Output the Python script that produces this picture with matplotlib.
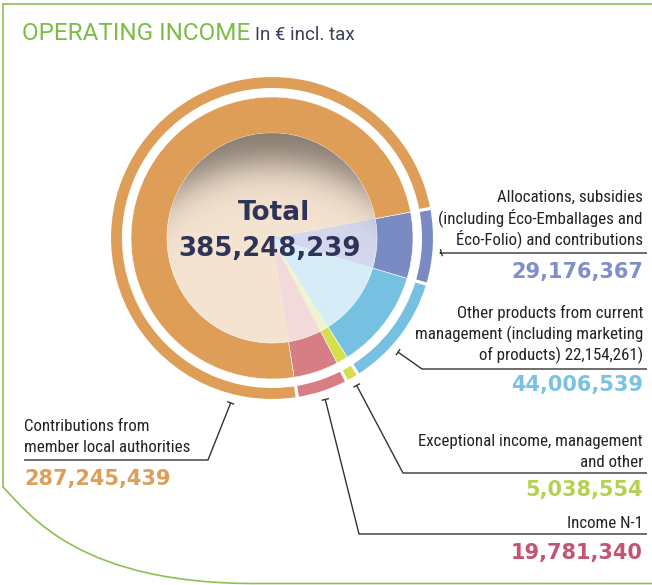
import numpy as np
import matplotlib
matplotlib.use("Agg")
import matplotlib.pyplot as plt
from matplotlib.patches import Circle, PathPatch
from matplotlib.path import Path

# ---------------- data ----------------
categories = [
    "Allocations, subsidies (including Éco-Emballages and Éco-Folio) and contributions",
    "Other products from current management (including marketing of products) 22,154,261)",
    "Exceptional income, management and other",
    "Income N-1",
    "Contributions from member local authorities",
]
values = [29176367, 44006539, 5038554, 19781340, 287245439]
label_lines = [
    ["Allocations, subsidies", "(including Éco-Emballages and", "Éco-Folio) and contributions"],
    ["Other products from current", "management (including marketing", "of products) 22,154,261)"],
    ["Exceptional income, management", "and other"],
    ["Income N-1"],
    ["Contributions from", "member local authorities"],
]
title = "OPERATING INCOME"
subtitle = "In € incl. tax"
total_word = "Total"

# ---------------- style ----------------
ring_colors = ["#7A8BC3", "#76C1E1", "#D5DF4B", "#D67E84", "#DF9E57"]
light_colors = ["#D3D8EE", "#D6ECF7", "#F1F4D0", "#F2DADB", "#F5E3D1"]
number_colors = ["#7F8FC8", "#78C3E4", "#B5D24F", "#C45473", "#DF9E57"]
green = "#7BBD45"
navy = "#2E3358"
txt = "#222222"
narrow = ["Roboto Condensed", "Liberation Sans Narrow", "Roboto", "DejaVu Sans"]
regular = ["Roboto", "DejaVu Sans"]

W, H = 652, 585
def Y(y):
    return H - y

cx, cy = 272, Y(238)
start_angle = 10.6

fig = plt.figure(figsize=(W / 100, H / 100), dpi=100)
ax = fig.add_axes([0, 0, 1, 1])

# inner light pie
ax.pie(values, colors=light_colors, radius=105, center=(cx, cy), startangle=start_angle,
       counterclock=False, wedgeprops=dict(linewidth=0))
# inner shadow (crescent at the top of the light disc)
r_in, k = 105, 100
n = 421
xs = np.linspace(cx - r_in, cx + r_in, n)
ys = np.linspace(cy - r_in, cy + r_in, n)
XX, YY = np.meshgrid(xs, ys)
d = np.hypot(XX - cx, YY - (cy - k))
Rc = r_in + k - 30
alpha = 0.6 / (1 + np.exp(-(d - Rc) / 11.0))
img = np.zeros((n, n, 4))
img[..., 0] = 0.22
img[..., 1] = 0.19
img[..., 2] = 0.16
img[..., 3] = alpha
im = ax.imshow(img, extent=(cx - r_in, cx + r_in, cy - r_in, cy + r_in), origin="lower",
               interpolation="bilinear", zorder=3)
im.set_clip_path(Circle((cx, cy), r_in, transform=ax.transData))

# main donut ring
ax.pie(values, colors=ring_colors, radius=141, center=(cx, cy), startangle=start_angle,
       counterclock=False, wedgeprops=dict(width=36, edgecolor="white", linewidth=0.4))
# thin outer ring
ax.pie(values, colors=ring_colors, radius=162.5, center=(cx, cy), startangle=start_angle,
       counterclock=False, wedgeprops=dict(width=14, edgecolor="white", linewidth=2.2))

ax.set_xlim(0, W)
ax.set_ylim(0, H)
ax.set_aspect("auto")
ax.axis("off")

# centre text
total = sum(values)
ax.text(cx + 2, Y(220), total_word, ha="center", va="baseline", fontsize=19,
        fontweight="bold", color=navy, zorder=5)
ax.text(cx - 2, Y(256), f"{total:,}", ha="center", va="baseline", fontsize=18.7,
        fontweight="bold", color=navy, zorder=5)

# ---------------- labels & leaders ----------------
frac = np.array(values) / total
ends = start_angle - 360 * np.cumsum(frac)
starts = np.concatenate([[start_angle], ends[:-1]])
anchor_frac = [0.57, 0.62, 0.5, 0.5, 0.086]
anchor_r = 170
elbows = [(440, 253), (422, 369), (403, 473), (359, 534), (208, 460)]
line_end = [647, 647, 647, 647, 24]
text_x = [643, 643, 643, 643, 24]
text_ha = ["right", "right", "right", "right", "left"]
first_baseline = [202, 318, 446, 528, 431]
number_baseline = [278, 391, 496, 559, 485]
line_gap = 21

for i in range(len(values)):
    ang = np.deg2rad(starts[i] - anchor_frac[i] * (starts[i] - ends[i]))
    tx, ty = cx + anchor_r * np.cos(ang), cy + anchor_r * np.sin(ang)
    ex, ey = elbows[i][0], Y(elbows[i][1])
    ax.plot([tx, ex, line_end[i]], [ty, ey, ey], color="#333333", lw=1.0,
            solid_capstyle="butt", zorder=4)
    dx, dy = ex - tx, ey - ty
    L = np.hypot(dx, dy)
    if L < 1:
        dx, dy, L = (line_end[i] - ex), 0.0, abs(line_end[i] - ex)
    px, py = -dy / L * 3, dx / L * 3
    ax.plot([tx - px, tx + px], [ty - py, ty + py], color="#333333", lw=1.0, zorder=4)
    for j, line in enumerate(label_lines[i]):
        ax.text(text_x[i], Y(first_baseline[i] + j * line_gap), line, ha=text_ha[i],
                va="baseline", fontsize=12.2, family=narrow, color=txt)
    ax.text(text_x[i], Y(number_baseline[i]), f"{values[i]:,}", ha=text_ha[i],
            va="baseline", fontsize=15, fontweight="bold", color=number_colors[i])

# ---------------- title ----------------
t1 = ax.text(22, Y(40), title, ha="left", va="baseline", fontsize=17.5,
             family=regular, color=green)
fig.canvas.draw()
bb = t1.get_window_extent()
ax.text(bb.x1 + 5, Y(40), subtitle, ha="left", va="baseline", fontsize=13.5,
        family=regular, color="#3A3F5C")

# ---------------- frame ----------------
frame_verts = [(652, Y(4)), (3, Y(4)), (3, Y(487)),
               (30, Y(515)), (80, Y(585)), (260, Y(583.5)), (652, Y(583.5))]
codes = [Path.MOVETO, Path.LINETO, Path.LINETO, Path.CURVE4, Path.CURVE4, Path.CURVE4, Path.LINETO]
ax.add_patch(PathPatch(Path(frame_verts, codes), fill=False, edgecolor="#8CC152", lw=1.2))

fig.savefig("out.png", dpi=100)
